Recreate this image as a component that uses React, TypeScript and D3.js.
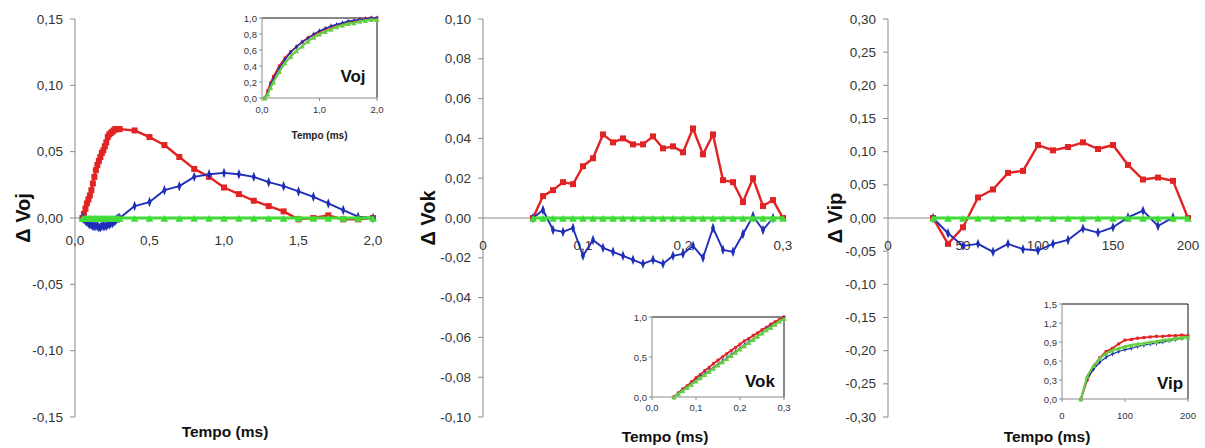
import React from 'react';
import * as d3 from 'd3';

// ---- panel 1 : Voj (main, delta vs green)
const vojTime = [0.05, 0.06, 0.07, 0.08, 0.09, 0.1, 0.11, 0.12, 0.13, 0.14, 0.15, 0.16, 0.17, 0.18, 0.19, 0.2, 0.21, 0.22, 0.23, 0.24, 0.25, 0.26, 0.27, 0.28, 0.29, 0.3, 0.4, 0.5, 0.6, 0.7, 0.8, 0.9, 1.0, 1.1, 1.2, 1.3, 1.4, 1.5, 1.6, 1.7, 1.8, 1.9, 2.0];
const vojRed = [0, 0.003, 0.007, 0.011, 0.014, 0.017, 0.021, 0.026, 0.031, 0.036, 0.04, 0.043, 0.046, 0.049, 0.051, 0.054, 0.057, 0.061, 0.063, 0.064, 0.065, 0.066, 0.067, 0.067, 0.067, 0.067, 0.066, 0.061, 0.055, 0.046, 0.037, 0.031, 0.023, 0.018, 0.013, 0.009, 0.005, -0.001, 0, 0.002, -0.001, -0.001, 0];
const vojBlue = [0, -0.001, -0.002, -0.003, -0.004, -0.005, -0.005, -0.006, -0.006, -0.006, -0.006, -0.007, -0.007, -0.006, -0.006, -0.006, -0.006, -0.005, -0.005, -0.004, -0.004, -0.003, -0.002, -0.001, 0, 0, 0.009, 0.012, 0.021, 0.024, 0.031, 0.033, 0.034, 0.033, 0.031, 0.027, 0.024, 0.02, 0.016, 0.011, 0.006, 0.001, 0];
const vojGreen = [0, 0, 0, 0, 0, 0, 0, 0, 0, 0, 0, 0, 0, 0, 0, 0, 0, 0, 0, 0, 0, 0, 0, 0, 0, 0, 0, 0, 0, 0, 0, 0, 0, 0, 0, 0, 0, 0, 0, 0, 0, 0, 0];
const vojYTicks = [-0.15, -0.1, -0.05, 0, 0.05, 0.1, 0.15];
const vojXTicks = [0, 0.5, 1, 1.5, 2];
const vojXTickLabels = ['0,0', '0,5', '1,0', '1,5', '2,0'];

// ---- panel 2 : Vok
const vokTime = [0.05, 0.06, 0.07, 0.08, 0.09, 0.1, 0.11, 0.12, 0.13, 0.14, 0.15, 0.16, 0.17, 0.18, 0.19, 0.2, 0.21, 0.22, 0.23, 0.24, 0.25, 0.26, 0.27, 0.28, 0.29, 0.3];
const vokRed = [0, 0.011, 0.014, 0.018, 0.017, 0.026, 0.03, 0.042, 0.038, 0.04, 0.037, 0.037, 0.041, 0.035, 0.036, 0.033, 0.045, 0.032, 0.042, 0.019, 0.018, 0.008, 0.02, 0.006, 0.009, 0];
const vokBlue = [0, 0.004, -0.006, -0.007, -0.005, -0.019, -0.011, -0.015, -0.017, -0.019, -0.021, -0.023, -0.021, -0.023, -0.019, -0.018, -0.014, -0.02, -0.005, -0.016, -0.017, -0.008, 0.001, -0.006, 0];
const vokGreen = [0, 0, 0, 0, 0, 0, 0, 0, 0, 0, 0, 0, 0, 0, 0, 0, 0, 0, 0, 0, 0, 0, 0, 0, 0, 0];
const vokYTicks = [-0.1, -0.08, -0.06, -0.04, -0.02, 0, 0.02, 0.04, 0.06, 0.08, 0.1];
const vokXTicks = [0, 0.1, 0.2, 0.3];
const vokXTickLabels = ['0', '0,1', '0,2', '0,3'];

// ---- panel 3 : Vip
const vipTime = [30, 40, 50, 60, 70, 80, 90, 100, 110, 120, 130, 140, 150, 160, 170, 180, 190, 200];
const vipRed = [0, -0.039, -0.014, 0.031, 0.043, 0.068, 0.071, 0.11, 0.102, 0.107, 0.114, 0.104, 0.11, 0.08, 0.058, 0.061, 0.056, 0];
const vipBlue = [0, -0.023, -0.042, -0.039, -0.051, -0.039, -0.047, -0.049, -0.039, -0.033, -0.016, -0.022, -0.014, 0.001, 0.011, -0.012, 0.001];
const vipGreen = [0, 0, 0, 0, 0, 0, 0, 0, 0, 0, 0, 0, 0, 0, 0, 0, 0, 0];
const vipYTicks = [-0.3, -0.25, -0.2, -0.15, -0.1, -0.05, 0, 0.05, 0.1, 0.15, 0.2, 0.25, 0.3];
const vipXTicks = [0, 50, 100, 150, 200];
const vipXTickLabels = ['0', '50', '100', '150', '200'];

// ---- insets (normalised curves)
const vojInTime = [0.05, 0.1, 0.15, 0.2, 0.3, 0.4, 0.5, 0.6, 0.7, 0.8, 0.9, 1.0, 1.1, 1.2, 1.3, 1.4, 1.5, 1.6, 1.7, 1.8, 1.9, 2.0];
const vojInRed = [0, 0.09, 0.19, 0.27, 0.4, 0.5, 0.58, 0.64, 0.7, 0.75, 0.79, 0.83, 0.86, 0.89, 0.91, 0.93, 0.95, 0.96, 0.98, 0.99, 1.0, 1.0];
const vojInBlue = [0, 0.07, 0.16, 0.24, 0.37, 0.48, 0.57, 0.64, 0.7, 0.75, 0.8, 0.84, 0.87, 0.9, 0.92, 0.94, 0.96, 0.97, 0.98, 0.99, 1.0, 1.0];
const vojInGreen = [0, 0.05, 0.13, 0.2, 0.33, 0.44, 0.52, 0.59, 0.65, 0.71, 0.76, 0.8, 0.83, 0.86, 0.89, 0.91, 0.93, 0.94, 0.96, 0.97, 0.98, 0.98];
const vojInYTicks = [0, 0.2, 0.4, 0.6, 0.8, 1.0];
const vojInYTickLabels = ['0,0', '0,2', '0,4', '0,6', '0,8', '1,0'];
const vojInXTicks = [0, 1, 2];
const vojInXTickLabels = ['0,0', '1,0', '2,0'];

const vokInTime = vokTime;
const vokInRed = [0, 0.05, 0.1, 0.14, 0.19, 0.24, 0.28, 0.33, 0.37, 0.42, 0.46, 0.5, 0.54, 0.58, 0.62, 0.66, 0.7, 0.73, 0.77, 0.8, 0.84, 0.87, 0.91, 0.94, 0.97, 1.0];
const vokInBlue = [0, 0.04, 0.08, 0.12, 0.17, 0.21, 0.25, 0.29, 0.33, 0.37, 0.41, 0.45, 0.49, 0.53, 0.57, 0.61, 0.65, 0.69, 0.72, 0.76, 0.8, 0.84, 0.88, 0.91, 0.95, 0.99];
const vokInGreen = [0, 0.04, 0.08, 0.12, 0.16, 0.2, 0.24, 0.28, 0.32, 0.36, 0.4, 0.44, 0.48, 0.52, 0.56, 0.6, 0.64, 0.68, 0.72, 0.76, 0.8, 0.84, 0.87, 0.91, 0.95, 0.98];
const vokInYTicks = [0, 0.5, 1.0];
const vokInYTickLabels = ['0,0', '0,5', '1,0'];
const vokInXTicks = [0, 0.1, 0.2, 0.3];
const vokInXTickLabels = ['0,0', '0,1', '0,2', '0,3'];

const vipInTime = vipTime;
const vipInRed = [0, 0.3, 0.5, 0.65, 0.75, 0.8, 0.87, 0.93, 0.94, 0.96, 0.97, 0.98, 0.99, 0.99, 1.0, 1.0, 1.01, 1.0];
const vipInBlue = [0, 0.32, 0.47, 0.58, 0.66, 0.71, 0.75, 0.78, 0.8, 0.83, 0.85, 0.87, 0.88, 0.9, 0.92, 0.94, 0.96, 0.98];
const vipInGreen = [0, 0.36, 0.53, 0.64, 0.72, 0.77, 0.8, 0.83, 0.85, 0.87, 0.88, 0.9, 0.91, 0.93, 0.94, 0.96, 0.97, 0.98];
const vipInYTicks = [0, 0.3, 0.6, 0.9, 1.2, 1.5];
const vipInYTickLabels = ['0,0', '0,3', '0,6', '0,9', '1,2', '1,5'];
const vipInXTicks = [0, 100, 200];
const vipInXTickLabels = ['0', '100', '200'];

const RED = '#e12323';
const BLUE = '#1f2eb8';
const GREEN = '#3fdc36';
const IN_GREEN = '#66cc44';
const AXIS = '#8a8a8a';
const TXT = '#333';
const FONT = '"Liberation Sans", Arial, sans-serif';

const locale = d3.formatLocale({ decimal: ',', thousands: '.', grouping: [3], currency: ['', ''], minus: '-' });
const fmt2 = locale.format('.2f');

const MAIN_TOP = 19;
const MAIN_BOTTOM = 417;

// draws markers for a series
const Markers = ({ xs, ys, x, y, color, kind, size, dy = 0 }) => {
    const sym = kind === 'square' ? d3.symbolSquare : kind === 'triangle' ? d3.symbolTriangle : d3.symbolDiamond;
    const path = d3.symbol().type(sym).size(size)();
    return (
        <g fill={color}>
            {ys.map((v, i) => (
                <path key={i} d={path} transform={`translate(${x(xs[i])},${y(v) + dy}) ${kind === 'diamond' ? 'scale(0.8,1.2)' : ''}`} />
            ))}
        </g>
    );
};

const Series = ({ xs, ys, x, y, color, width, kind, size, dy = 0 }) => {
    const line = d3.line().x((d, i) => x(xs[i])).y(d => y(d));
    return (
        <g>
            <path d={line(ys)} fill="none" stroke={color} strokeWidth={width} strokeLinejoin="round" />
            <Markers xs={xs} ys={ys} x={x} y={y} color={color} kind={kind} size={size} dy={dy} />
        </g>
    );
};

const MainPanel = ({ p }) => {
    const x = d3.scaleLinear().domain(p.xDomain).range(p.xRange);
    const y = d3.scaleLinear().domain(p.yDomain).range([MAIN_BOTTOM, MAIN_TOP]);
    const x0 = x(0);
    return (
        <g fontFamily={FONT}>
            {/* y axis */}
            <line x1={x0} x2={x0} y1={MAIN_TOP} y2={MAIN_BOTTOM} stroke={AXIS} />
            {p.yTicks.map(t => (
                <g key={t}>
                    <line x1={x0 - 5} x2={x0} y1={y(t)} y2={y(t)} stroke={AXIS} />
                    <text x={x0 - 12} y={y(t)} textAnchor="end" dominantBaseline="central" fontSize={13.5} fill={TXT}>{fmt2(t)}</text>
                </g>
            ))}
            {/* x axis sits on zero */}
            <line x1={x0} x2={x(p.xDomain[1])} y1={y(0)} y2={y(0)} stroke={AXIS} />
            {p.xTicks.map((t, i) => (
                <text key={t} x={x(t)} y={p.xLabelY} textAnchor="middle" dominantBaseline="central" fontSize={13.5} fill={TXT}>{p.xTickLabels[i]}</text>
            ))}
            <Series xs={p.time} ys={p.red} x={x} y={y} color={RED} width={2.4} kind="square" size={36} />
            <Series xs={p.time} ys={p.blue} x={x} y={y} color={BLUE} width={1.9} kind="diamond" size={22} />
            <Series xs={p.time} ys={p.green} x={x} y={y} color={GREEN} width={3} kind="triangle" size={26} dy={1.5} />
            <text transform={`translate(${p.titleX},218) rotate(-90)`} textAnchor="middle" dominantBaseline="central" fontSize={20} fontWeight="bold" fill="#111">{p.title}</text>
            <text x={p.tempoX} y={p.tempoY} textAnchor="middle" dominantBaseline="central" fontSize={15.5} fontWeight="bold" fill="#111">Tempo (ms)</text>
        </g>
    );
};

const Inset = ({ q }) => {
    const x = d3.scaleLinear().domain(q.xDomain).range([q.left, q.right]);
    const y = d3.scaleLinear().domain(q.yDomain).range([q.bottom, q.top]);
    return (
        <g fontFamily={FONT}>
            <rect x={q.left} y={q.top} width={q.right - q.left} height={q.bottom - q.top} fill="#fff" />
            <line x1={q.left} x2={q.right} y1={q.top} y2={q.top} stroke="#111" />
            <line x1={q.right} x2={q.right} y1={q.top} y2={q.bottom} stroke="#111" />
            <line x1={q.left} x2={q.left} y1={q.top} y2={q.bottom} stroke={AXIS} />
            <line x1={q.left} x2={q.right} y1={q.bottom} y2={q.bottom} stroke={AXIS} />
            {q.yTicks.map((t, i) => (
                <g key={t}>
                    <line x1={q.left - 3} x2={q.left} y1={y(t)} y2={y(t)} stroke={AXIS} />
                    <text x={q.left - 5} y={y(t)} textAnchor="end" dominantBaseline="central" fontSize={9.5} fill={TXT}>{q.yTickLabels[i]}</text>
                </g>
            ))}
            {q.xTicks.map((t, i) => (
                <g key={t}>
                    <line x1={x(t)} x2={x(t)} y1={q.bottom} y2={q.bottom + 3} stroke={AXIS} />
                    <text x={x(t)} y={q.xLabelY} textAnchor="middle" dominantBaseline="central" fontSize={9.5} fill={TXT}>{q.xTickLabels[i]}</text>
                </g>
            ))}
            <Series xs={q.time} ys={q.red} x={x} y={y} color={RED} width={1.8} kind="square" size={9} />
            <Series xs={q.time} ys={q.blue} x={x} y={y} color={BLUE} width={1.3} kind="diamond" size={6} />
            <Series xs={q.time} ys={q.green} x={x} y={y} color={IN_GREEN} width={2.2} kind="triangle" size={12} dy={1} />
            <text x={q.labelX} y={q.labelY} textAnchor="middle" dominantBaseline="central" fontSize={17} fontWeight="bold" fill="#111">{q.label}</text>
            {q.tempo && (
                <text x={(q.left + q.right) / 2} y={q.tempoY} textAnchor="middle" dominantBaseline="central" fontSize={10} fontWeight="bold" fill="#222">Tempo (ms)</text>
            )}
        </g>
    );
};

const panels = [
    { key: 'voj', time: vojTime, red: vojRed, blue: vojBlue, green: vojGreen, xDomain: [0, 2], xRange: [75, 373], yDomain: [-0.15, 0.15], yTicks: vojYTicks, xTicks: vojXTicks, xTickLabels: vojXTickLabels, xLabelY: 240, title: 'Δ Voj', titleX: 23, tempoX: 225, tempoY: 431 },
    { key: 'vok', time: vokTime, red: vokRed, blue: vokBlue, green: vokGreen, xDomain: [0, 0.3], xRange: [483, 783], yDomain: [-0.1, 0.1], yTicks: vokYTicks, xTicks: vokXTicks, xTickLabels: vokXTickLabels, xLabelY: 245, title: 'Δ Vok', titleX: 428, tempoX: 665, tempoY: 436 },
    { key: 'vip', time: vipTime, red: vipRed, blue: vipBlue, green: vipGreen, xDomain: [0, 200], xRange: [888, 1188], yDomain: [-0.3, 0.3], yTicks: vipYTicks, xTicks: vipXTicks, xTickLabels: vipXTickLabels, xLabelY: 245, title: 'Δ Vip', titleX: 835, tempoX: 1047, tempoY: 436 },
];

const insets = [
    { key: 'voj', time: vojInTime, red: vojInRed, blue: vojInBlue, green: vojInGreen, xDomain: [0, 2], yDomain: [0, 1], left: 262, right: 377, top: 18, bottom: 98, yTicks: vojInYTicks, yTickLabels: vojInYTickLabels, xTicks: vojInXTicks, xTickLabels: vojInXTickLabels, xLabelY: 109, label: 'Voj', labelX: 353, labelY: 76, tempo: true, tempoY: 135 },
    { key: 'vok', time: vokInTime, red: vokInRed, blue: vokInBlue, green: vokInGreen, xDomain: [0, 0.3], yDomain: [0, 1], left: 652, right: 784, top: 317, bottom: 397, yTicks: vokInYTicks, yTickLabels: vokInYTickLabels, xTicks: vokInXTicks, xTickLabels: vokInXTickLabels, xLabelY: 407, label: 'Vok', labelX: 760, labelY: 381 },
    { key: 'vip', time: vipInTime, red: vipInRed, blue: vipInBlue, green: vipInGreen, xDomain: [0, 200], yDomain: [0, 1.5], left: 1062, right: 1188, top: 304, bottom: 399, yTicks: vipInYTicks, yTickLabels: vipInYTickLabels, xTicks: vipInXTicks, xTickLabels: vipInXTickLabels, xLabelY: 415, label: 'Vip', labelX: 1170, labelY: 383 },
];

export default function App() {
    return (
        <svg width={1205} height={448} style={{ position: 'absolute', left: 0, top: 0, background: '#fff' }}>
            {panels.map(p => <MainPanel key={p.key} p={p} />)}
            {insets.map(q => <Inset key={q.key} q={q} />)}
        </svg>
    );
}
